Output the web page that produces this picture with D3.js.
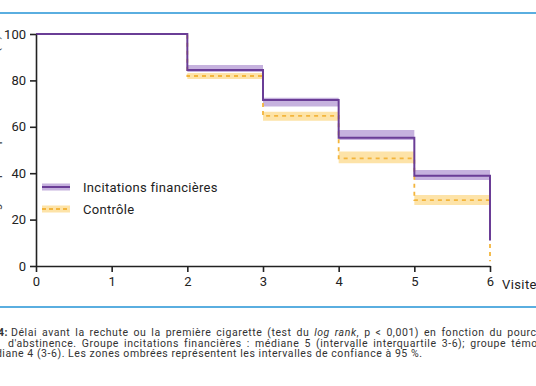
<!DOCTYPE html>
<html>
<head>
  <meta charset="UTF-8">
  <script src="https://d3js.org/d3.v7.min.js"></script>
  <style>
    body { margin: 0; background: #fff; }
    svg { display: block; }
  </style>
</head>
<body>
  <script>
    // Kaplan-Meier style curves
    var times = [0, 2, 3, 4, 5, 6];
    var incitations = [100, 84.5, 71.6, 55.3, 38.9, 11];
    var incitLow = [100, 83.6, 68.7, 54.3, 37.1];
    var incitHigh = [100, 86.6, 72.5, 58.6, 41.4];
    var controle = [100, 81.9, 64.7, 46.4, 28.4, 2];
    var ctrlLow = [100, 80.6, 62.6, 44.3, 26.3];
    var ctrlHigh = [100, 83.2, 66.5, 49.3, 30.6];
    var xTicks = [0, 1, 2, 3, 4, 5, 6];
    var yTicks = [0, 20, 40, 60, 80, 100];
    var seriesNames = ["Incitations financières", "Contrôle"];

    var width = 536;
    var height = 386;
    var svg = d3.select("body")
      .append("svg")
      .attr("width", width)
      .attr("height", height);

    var x = d3.scaleLinear().domain([0, 6]).range([36, 490]);
    var y = d3.scaleLinear().domain([0, 100]).range([266, 34]);

    var purple = "#6a3d96";
    var purpleBand = "#c6b2de";
    var yellow = "#f3b53c";
    var yellowBand = "#fde3a8";
    var font = "Roboto, 'DejaVu Sans', sans-serif";

    // blue rules top and bottom
    svg.append("line")
      .attr("x1", 0).attr("x2", width).attr("y1", 13).attr("y2", 13)
      .attr("stroke", "#5aaee0").attr("stroke-width", 2);
    svg.append("line")
      .attr("x1", 0).attr("x2", width).attr("y1", 307).attr("y2", 307)
      .attr("stroke", "#5aaee0").attr("stroke-width", 2);

    // build point lists for the bands (last interval extends to 6)
    function bandPoints(lo, hi) {
      var pts = [];
      for (var i = 0; i < lo.length; i++) {
        pts.push({ t: times[i], lo: lo[i], hi: hi[i] });
      }
      pts.push({ t: times[times.length - 1], lo: lo[lo.length - 1], hi: hi[hi.length - 1] });
      return pts;
    }
    function linePoints(vals) {
      return vals.map(function(v, i) { return { t: times[i], v: v }; });
    }

    var area = d3.area()
      .curve(d3.curveStepAfter)
      .x(function(d) { return x(d.t); })
      .y0(function(d) { return y(d.lo); })
      .y1(function(d) { return y(d.hi); });

    var line = d3.line()
      .curve(d3.curveStepAfter)
      .x(function(d) { return x(d.t); })
      .y(function(d) { return y(d.v); });

    svg.append("path")
      .attr("d", area(bandPoints(ctrlLow, ctrlHigh)))
      .attr("fill", yellowBand);
    svg.append("path")
      .attr("d", area(bandPoints(incitLow, incitHigh)))
      .attr("fill", purpleBand);

    svg.append("path")
      .attr("d", line(linePoints(controle)))
      .attr("fill", "none")
      .attr("stroke", yellow)
      .attr("stroke-width", 1.8)
      .attr("stroke-dasharray", "4,4");
    svg.append("path")
      .attr("d", line(linePoints(incitations)))
      .attr("fill", "none")
      .attr("stroke", purple)
      .attr("stroke-width", 2);

    // axes
    var yAxis = svg.append("g")
      .attr("transform", "translate(36,0)")
      .call(d3.axisLeft(y).tickValues(yTicks).tickFormat(d3.format("d"))
        .tickSize(6).tickSizeOuter(0).tickPadding(4));
    var xAxis = svg.append("g")
      .attr("transform", "translate(0,266)")
      .call(d3.axisBottom(x).tickValues(xTicks).tickFormat(d3.format("d"))
        .tickSize(6).tickSizeOuter(0).tickPadding(5));

    [yAxis, xAxis].forEach(function(a) {
      a.select(".domain").attr("stroke", "#222").attr("stroke-width", 1.6);
      a.selectAll(".tick line").attr("stroke", "#222").attr("stroke-width", 1.6);
      a.selectAll(".tick text")
        .attr("fill", "#222")
        .style("font-family", font)
        .style("font-size", "13px");
    });

    svg.append("text")
      .attr("x", 502).attr("y", 289)
      .attr("fill", "#222")
      .style("font-family", font)
      .style("font-size", "13px")
      .style("letter-spacing", "0.4px")
      .text("Visites");

    // y-axis title, mostly cut off by the left edge
    svg.append("text")
      .attr("transform", "translate(-1,150) rotate(-90)")
      .attr("text-anchor", "middle")
      .attr("fill", "#444")
      .style("font-family", font)
      .style("font-size", "12px")
      .text("Pourcentage de participants abstinents (%)");

    // legend
    var legendDetails = [
      { name: seriesNames[0], line: purple, band: purpleBand, dash: null, y: 187 },
      { name: seriesNames[1], line: yellow, band: yellowBand, dash: "4,3", y: 209 }
    ];
    var legend = svg.append("g").attr("class", "legend");
    legendDetails.forEach(function(d) {
      legend.append("rect")
        .attr("x", 42).attr("y", d.y - 3.5)
        .attr("width", 28).attr("height", 7)
        .attr("fill", d.band);
      legend.append("line")
        .attr("x1", 42).attr("x2", 70).attr("y1", d.y).attr("y2", d.y)
        .attr("stroke", d.line).attr("stroke-width", 2)
        .attr("stroke-dasharray", d.dash);
      legend.append("text")
        .attr("x", 83).attr("y", d.y + 4.5)
        .attr("fill", "#222")
        .style("font-family", font)
        .style("font-size", "13px")
        .style("letter-spacing", "0.3px")
        .text(d.name);
    });

    // caption (justified lines get extra word spacing)
    var cap = svg.append("g")
      .attr("fill", "#333")
      .style("font-family", font)
      .style("font-size", "10.5px")
      .style("letter-spacing", "0.55px");
    cap.append("text")
      .attr("x", 8).attr("y", 336)
      .attr("text-anchor", "end")
      .style("font-weight", "bold")
      .text("Figure 4:");
    var l1 = cap.append("text").attr("x", 11).attr("y", 336)
      .style("word-spacing", "1.8px");
    l1.append("tspan").text("Délai avant la rechute ou la première cigarette (test du ");
    l1.append("tspan").style("font-style", "italic").text("log rank");
    l1.append("tspan").text(", p < 0,001) en fonction du pourcentage");
    cap.append("text")
      .attr("x", 8).attr("y", 347)
      .style("word-spacing", "2px")
      .text("d'abstinence. Groupe incitations financières : médiane 5 (intervalle interquartile 3-6); groupe témoin :");
    cap.append("text")
      .attr("x", -20).attr("y", 357)
      .text("médiane 4 (3-6). Les zones ombrées représentent les intervalles de confiance à 95 %.");
  </script>
</body>
</html>
